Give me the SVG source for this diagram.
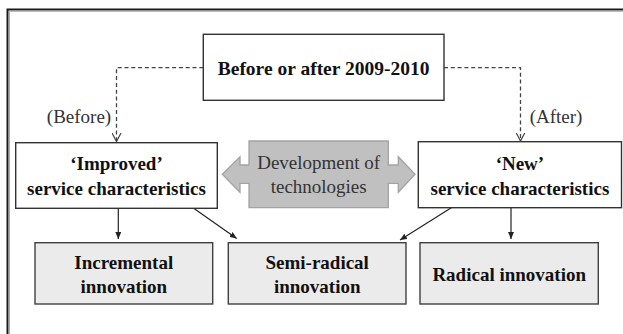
<svg xmlns="http://www.w3.org/2000/svg" width="623" height="334" viewBox="0 0 623 334">
  <style>
    .t { font-family: "Liberation Serif", "Times New Roman", serif; text-anchor: middle; }
    .b { font-weight: bold; font-size: 19px; fill: #111; }
    .r { font-size: 19px; fill: #333; }
    .wbox { fill: #fff; stroke: #333; stroke-width: 1.4; }
    .gbox { fill: #ebebeb; stroke: #404040; stroke-width: 1.4; }
    .dash { fill: none; stroke: #444; stroke-width: 1.3; stroke-dasharray: 4 2.8; }
    .solid { fill: none; stroke: #222; stroke-width: 1.2; }
  </style>
  <defs>
    <marker id="open" viewBox="0 0 9 10" refX="8.5" refY="5" markerWidth="9" markerHeight="10" markerUnits="userSpaceOnUse" orient="auto">
      <path d="M0,0.5 L8.5,5 L0,9.5" fill="none" stroke="#444" stroke-width="1.2"/>
    </marker>
    <marker id="fill" viewBox="0 0 7 6" refX="7" refY="3" markerWidth="7" markerHeight="6" markerUnits="userSpaceOnUse" orient="auto">
      <path d="M0,0 L7,3 L0,6 z" fill="#222"/>
    </marker>
  </defs>

  <!-- outer frame -->
  <path d="M7.5,334 V9.5 H623" fill="none" stroke="#1a1a1a" stroke-width="2"/>
  <path d="M9.5,334 V11.3 H623" fill="none" stroke="#aaa" stroke-width="1"/>

  <g id="connectors">
    <path class="dash" d="M203.3,67.7 H116.5 V141.5" marker-end="url(#open)"/>
    <path class="dash" d="M444,67.7 H520.5 V141" marker-end="url(#open)"/>
    <path class="solid" d="M118.3,208.3 V239" marker-end="url(#fill)"/>
    <path class="solid" d="M193.3,208 L236.7,238.5" marker-end="url(#fill)"/>
    <path class="solid" d="M451.7,207.5 L400,240" marker-end="url(#fill)"/>
    <path class="solid" d="M511,207.5 V239" marker-end="url(#fill)"/>
  </g>

  <g id="top">
    <rect class="wbox" x="203.3" y="34.3" width="240.7" height="66"/>
    <text class="t b" x="323.6" y="75" style="font-size:19.5px">Before or after 2009-2010</text>
  </g>

  <g id="label-before">
    <text class="t r" x="79" y="123">(Before)</text>
  </g>
  <g id="label-after">
    <text class="t r" x="556" y="123">(After)</text>
  </g>

  <g id="improved">
    <rect class="wbox" x="15.7" y="142.7" width="201.6" height="65.6"/>
    <text class="t b" x="116.5" y="169.5">‘Improved’</text>
    <text class="t b" x="116.5" y="195">service characteristics</text>
  </g>

  <g id="technologies">
    <polygon points="249,141 388.3,141 388.3,165 398.3,165 398.3,156.7 415,174.3 398.3,192.3 398.3,183.3 388.3,183.3 388.3,207.7 249,207.7 249,183.3 240,183.3 240,192.3 222.3,174.3 240,156.7 240,165 249,165" fill="#c0c0c0" stroke="#a3a3a3" stroke-width="1.3"/>
    <text class="t r" x="318.7" y="169">Development of</text>
    <text class="t r" x="318.7" y="192.5">technologies</text>
  </g>

  <g id="new">
    <rect class="wbox" x="418.3" y="141.7" width="203.2" height="66"/>
    <text class="t b" x="519.9" y="169.5">‘New’</text>
    <text class="t b" x="519.9" y="195">service characteristics</text>
  </g>

  <g id="incremental">
    <rect class="gbox" x="35" y="242.7" width="177.7" height="61.3"/>
    <text class="t b" x="123.8" y="269.3">Incremental</text>
    <text class="t b" x="123.8" y="292.7">innovation</text>
  </g>

  <g id="semiradical">
    <rect class="gbox" x="228.3" y="242.7" width="177.7" height="61.3"/>
    <text class="t b" x="317.2" y="269.3">Semi-radical</text>
    <text class="t b" x="317.2" y="292.7">innovation</text>
  </g>

  <g id="radical">
    <rect class="gbox" x="420" y="242.7" width="178.3" height="61.3"/>
    <text class="t b" x="509.2" y="280.7">Radical innovation</text>
  </g>
</svg>
